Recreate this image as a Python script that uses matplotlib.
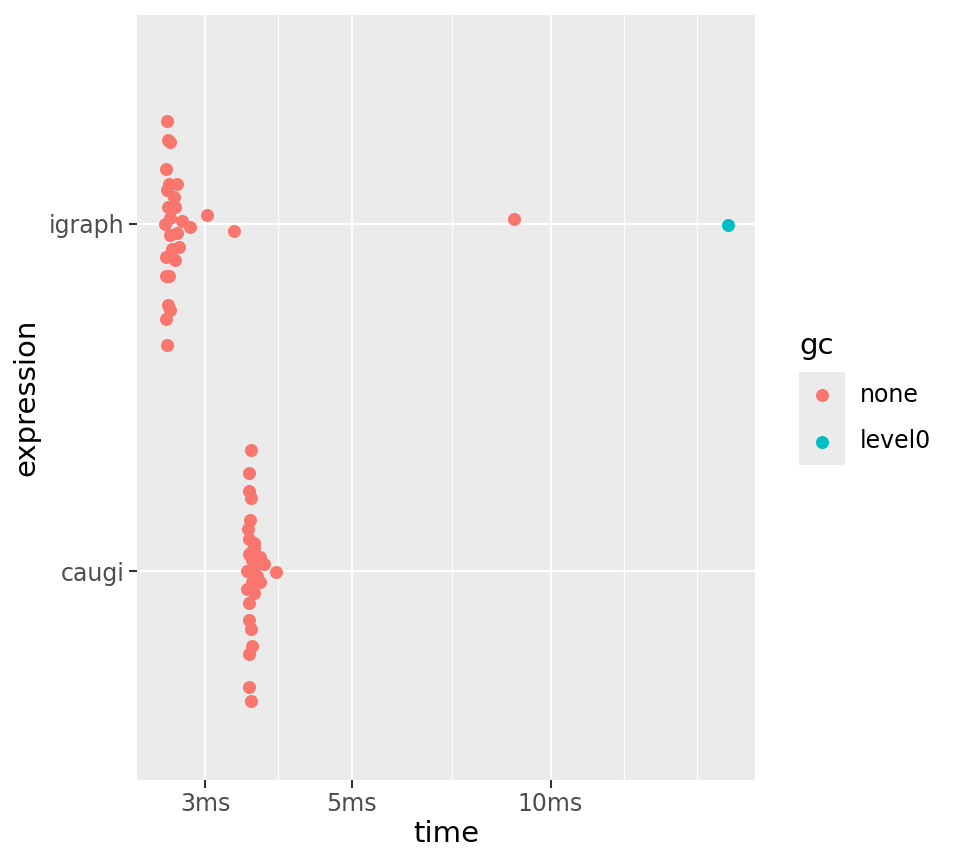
import matplotlib
matplotlib.use('Agg')
import matplotlib.pyplot as plt
from matplotlib.ticker import FixedLocator, NullFormatter

# Colours from the ggplot default hue palette
GC_LEVELS = ['none', 'level0']
GC_COLORS = ['#F8766D', '#00BFC4']

EXPRESSIONS = ['caugi', 'igraph']

# igraph timings (ms) and their vertical beeswarm offsets
igraph_time = [2.627, 2.630, 2.655, 2.618, 2.640, 2.718, 2.625, 2.686, 2.630, 2.701,
               2.655, 2.769, 2.840, 2.609, 3.014, 3.320, 2.655, 2.718, 2.671, 2.733,
               2.618, 2.695, 2.618, 2.640, 2.636, 2.655, 2.618, 2.627, 8.79, 18.54]
igraph_offset = [0.294, 0.241, 0.236, 0.158, 0.115, 0.115, 0.097, 0.077, 0.049, 0.049,
                 0.016, 0.008, -0.011, -0.001, 0.024, -0.020, -0.034, -0.028, -0.074, -0.066,
                 -0.097, -0.106, -0.151, -0.150, -0.235, -0.249, -0.275, -0.348, 0.014, -0.003]
igraph_gc = ['none'] * 29 + ['level0']

# caugi timings (ms) and their vertical beeswarm offsets
caugi_time = [3.514, 3.494, 3.498, 3.522, 3.510, 3.486, 3.489, 3.551, 3.556, 3.489,
              3.627, 3.678, 3.530, 3.471, 3.594, 3.636, 3.530, 3.471, 3.551, 3.844,
              3.494, 3.494, 3.518, 3.530, 3.494, 3.494, 3.514, 3.560, 3.575, 3.525]
caugi_offset = [0.348, 0.284, 0.232, 0.212, 0.149, 0.123, 0.094, 0.083, 0.066, 0.051,
                0.042, 0.022, 0.032, 0.002, -0.013, -0.032, -0.032, -0.050, -0.061, -0.001,
                -0.091, -0.140, -0.167, -0.216, -0.238, -0.332, -0.372, 0.010, -0.020, 0.060]
caugi_gc = ['none'] * 30

# Axis breaks
x_breaks = [3, 5, 10]
x_labels = ['3ms', '5ms', '10ms']
x_minor = [3.87, 7.08, 12.93, 16.67]
x_limits = (2.364, 20.4)

PANEL_BG = '#EBEBEB'
TICK_COLOR = '#4D4D4D'
TICK_SIZE = 17
TITLE_SIZE = 21

fig = plt.figure(figsize=(9.6, 8.65), dpi=100)
ax = fig.add_axes([137 / 960, 85 / 865, 618 / 960, 765 / 865])
ax.set_facecolor(PANEL_BG)

groups = [(caugi_time, caugi_offset, caugi_gc, 0), (igraph_time, igraph_offset, igraph_gc, 1)]
for times, offsets, gcs, pos in groups:
    for level, color in zip(GC_LEVELS, GC_COLORS):
        xs = [t for t, g in zip(times, gcs) if g == level]
        ys = [pos + o for o, g in zip(offsets, gcs) if g == level]
        ax.scatter(xs, ys, s=88, color=color, linewidths=0, zorder=3)

ax.set_xscale('log')
ax.set_xlim(*x_limits)
ax.set_ylim(-0.6, 1.6)
ax.xaxis.set_major_locator(FixedLocator(x_breaks))
ax.set_xticklabels(x_labels)
ax.xaxis.set_minor_locator(FixedLocator(x_minor))
ax.xaxis.set_minor_formatter(NullFormatter())
ax.set_yticks([0, 1])
ax.set_yticklabels(EXPRESSIONS)

ax.grid(which='major', color='white', linewidth=1.6, zorder=0)
ax.grid(which='minor', axis='x', color='white', linewidth=0.8, zorder=0)
ax.set_axisbelow(True)

ax.tick_params(which='major', length=5.8, width=1.5, color='#333333',
               labelsize=TICK_SIZE, labelcolor=TICK_COLOR, pad=3)
ax.tick_params(which='minor', length=0)
for sp in ax.spines.values():
    sp.set_visible(False)

ax.set_xlabel('time', fontsize=TITLE_SIZE, labelpad=3)
ax.set_ylabel('expression', fontsize=TITLE_SIZE, labelpad=6)

# Legend: grey key column, points and labels
leg_ax = fig.add_axes([799 / 960, (865 - 465) / 865, 46 / 960, 93 / 865])
leg_ax.set_facecolor(PANEL_BG)
leg_ax.set_xlim(0, 1)
leg_ax.set_ylim(0, len(GC_LEVELS))
for i, (level, color) in enumerate(zip(GC_LEVELS, GC_COLORS)):
    yk = len(GC_LEVELS) - i - 0.5
    leg_ax.scatter([0.5], [yk], s=88, color=color, linewidths=0)
    fig.text(860 / 960, 1 - (395 + 46 * i) / 865, level, fontsize=TICK_SIZE,
             va='center', ha='left')
leg_ax.set_xticks([])
leg_ax.set_yticks([])
for sp in leg_ax.spines.values():
    sp.set_visible(False)
fig.text(799 / 960, 1 - 346 / 865, 'gc', fontsize=TITLE_SIZE, va='center', ha='left')

fig.savefig('out.png', dpi=100)
